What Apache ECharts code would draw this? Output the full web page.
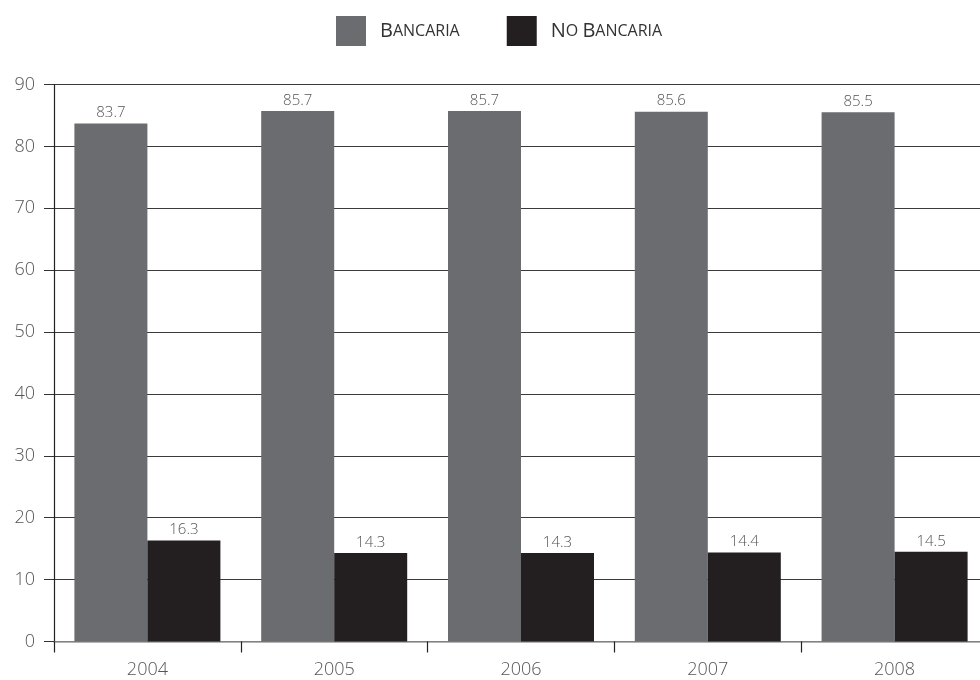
<!DOCTYPE html>
<html>
<head>
<meta charset="utf-8">
<script src="https://cdn.jsdelivr.net/npm/echarts@6/dist/echarts.min.js"></script>
<style>
  html, body { margin: 0; padding: 0; background: #fff; overflow: hidden; }
  /* the plot runs slightly past the right edge of the page */
  #chart { width: 988px; height: 680px; }
</style>
</head>
<body>
<div id="chart"></div>
<script>
// Share of assets by type of institution, 2004–2008
const years = ['2004', '2005', '2006', '2007', '2008'];
const bancaria = [83.7, 85.7, 85.7, 85.6, 85.5];
const noBancaria = [16.3, 14.3, 14.3, 14.4, 14.5];
const yTicks = { min: 0, max: 90, interval: 10 };

const FONT = '"Open Sans", "Noto Sans", sans-serif';
const GRAY = '#6b6c70';
const DARK = '#231f20';

const chart = echarts.init(document.getElementById('chart'));

const valueLabel = {
  show: true,
  position: 'top',
  distance: 3,
  color: '#555',
  fontFamily: FONT,
  fontWeight: 300,
  fontSize: 15
};

chart.setOption({
  animation: false,
  legend: {
    top: 11,
    left: 331,
    itemWidth: 30,
    itemHeight: 30,
    itemGap: 47,
    icon: 'rect',
    data: ['Bancaria', 'No Bancaria'],
    formatter: function (name) {
      // small caps: initials large, rest reduced uppercase
      return name.split(' ').map(function (w) {
        return '{a|' + w.charAt(0).toUpperCase() + '}{b|' + w.slice(1).toUpperCase() + '}';
      }).join('{b| }');
    },
    textStyle: {
      padding: [0, 0, 0, 9],
      rich: {
        a: { fontFamily: FONT, fontWeight: 400, fontSize: 20, color: '#333' },
        b: { fontFamily: FONT, fontWeight: 400, fontSize: 16, color: '#333' }
      }
    }
  },
  grid: {
    left: 54,
    right: 0,
    top: 84.5,
    bottom: 38.5,
    containLabel: false
  },
  xAxis: {
    type: 'category',
    data: years,
    axisLine: { lineStyle: { color: '#9a9a9a', width: 1.5 } },
    axisTick: { show: true, length: 11, lineStyle: { color: '#222', width: 1.2 } },
    axisLabel: {
      color: '#555',
      fontFamily: FONT,
      fontWeight: 300,
      fontSize: 18,
      margin: 19
    }
  },
  yAxis: {
    type: 'value',
    min: yTicks.min,
    max: yTicks.max,
    interval: yTicks.interval,
    axisLine: { show: true, lineStyle: { color: '#222', width: 1.2 } },
    axisTick: { show: true, length: 10, lineStyle: { color: '#333', width: 1 } },
    splitLine: { show: true, lineStyle: { color: '#3a3a3a', width: 1 } },
    axisLabel: {
      color: '#555',
      fontFamily: FONT,
      fontWeight: 300,
      fontSize: 18,
      margin: 19
    }
  },
  series: [
    {
      name: 'Bancaria',
      type: 'bar',
      data: bancaria,
      barWidth: 73,
      barGap: '0%',
      itemStyle: { color: GRAY },
      label: valueLabel
    },
    {
      name: 'No Bancaria',
      type: 'bar',
      data: noBancaria,
      barWidth: 73,
      barGap: '0%',
      itemStyle: { color: DARK },
      label: valueLabel
    }
  ]
});
</script>
</body>
</html>
